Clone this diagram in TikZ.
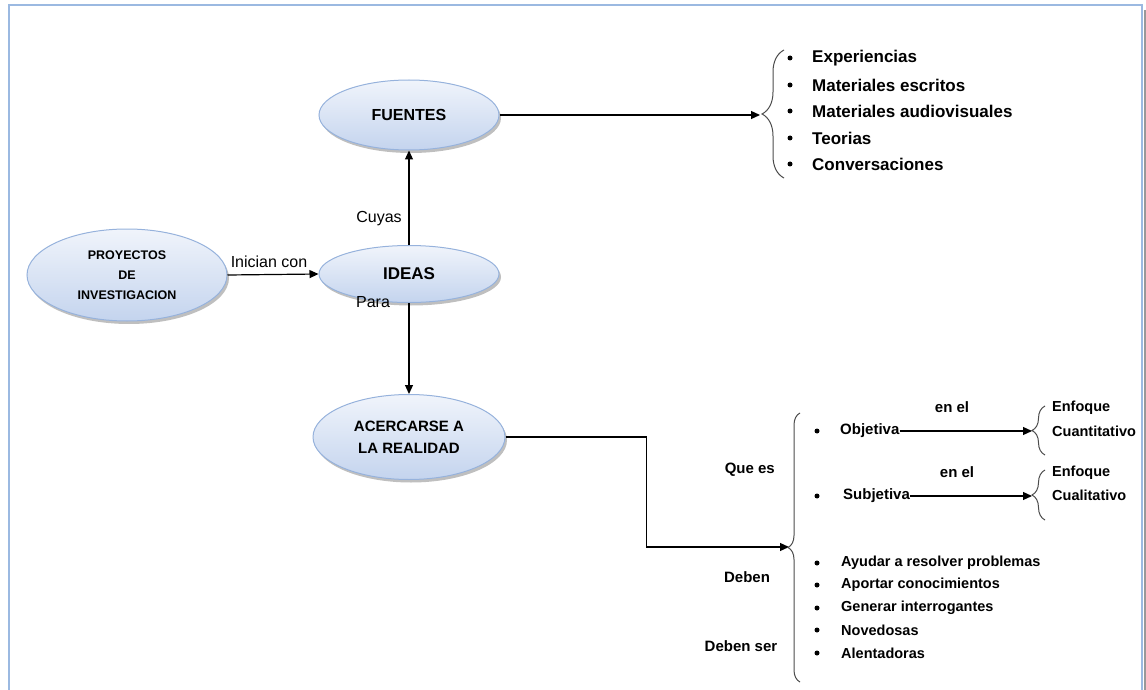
\documentclass[tikz,border=0pt]{standalone}
\usepackage{fontspec}
\setmainfont{Liberation Sans}
\usetikzlibrary{shapes.geometric,arrows.meta,decorations.pathreplacing,shadows}
\definecolor{frameblue}{RGB}{155,185,225}
\definecolor{elltop}{RGB}{240,244,251}
\definecolor{ellbot}{RGB}{196,212,238}
\definecolor{elldraw}{RGB}{150,178,220}
\begin{document}
\begin{tikzpicture}[x=1pt,y=-1pt,
 bubble/.style={ellipse, draw=elldraw, line width=1pt, top color=elltop, bottom color=ellbot, inner sep=0pt, align=center, text=black, font=\bfseries\fontsize{15}{22}\selectfont, drop shadow={shadow xshift=2pt, shadow yshift=-3pt, fill=black, opacity=0.25}},
 lbl/.style={font=\fontsize{16}{19}\selectfont, inner sep=0pt},
 blbl/.style={font=\bfseries\fontsize{15}{18}\selectfont, inner sep=0pt},
 item/.style={font=\bfseries\fontsize{17}{20}\selectfont, anchor=west, inner sep=0pt},
 sitem/.style={font=\bfseries\fontsize{14.5}{17}\selectfont, anchor=west, inner sep=0pt},
 bul/.style={circle, fill=black, inner sep=0pt, minimum size=5pt},
 arr/.style={-{Triangle[length=9pt,width=8pt]}, line width=1.2pt},
 brc/.style={decorate, decoration={brace, amplitude=#1, aspect=0.5}, line width=1pt, draw=black!70},
]
\useasboundingbox (0,0) rectangle (1146,690);
% frame
\draw[black!40, line width=2pt] (1145,10) -- (1145,700);
\draw[frameblue, line width=2pt] (9,700) -- (9,5) -- (1142,5) -- (1142,700);

% ellipses
\node[bubble, minimum width=180, minimum height=70, font=\bfseries\fontsize{16}{20}\selectfont] (fuentes) at (409,115) {FUENTES};
\node[bubble, minimum width=200, minimum height=92, font=\bfseries\fontsize{12.5}{20}\selectfont] (proy) at (127,275) {PROYECTOS\\DE\\INVESTIGACION};
\node[bubble, minimum width=180, minimum height=57, font=\bfseries\fontsize{17}{20}\selectfont] (ideas) at (409,274) {IDEAS};
\node[bubble, minimum width=192, minimum height=85] (acer) at (409,437) {ACERCARSE A\\LA REALIDAD};

% main connectors
\draw[arr] (proy.east) -- (ideas.west);
\draw[arr] (ideas.north) -- (fuentes.south);
\draw[arr] (ideas.south) -- (acer.north);
\node[lbl] (lini) at (269,262) {Inician con};
\node[lbl] (lcuy) at (379,219) {Cuyas};
\node[lbl] (lpara) at (373,302) {Para};

% fuentes list
\coordinate (b1tip) at (760,115);
\draw[arr] (fuentes.east) -- (b1tip);
\coordinate (b1a) at (784,178);
\coordinate (b1b) at (784,50);
\draw[brc=22] (b1a) -- (b1b);
\node[bul] (u1) at (790,58) {};
\node[bul] (u2) at (790,85) {};
\node[bul] (u3) at (790,111) {};
\node[bul] (u4) at (790,138) {};
\node[bul] (u5) at (790,164) {};
\node[item] (e1) at (812,58) {Experiencias};
\node[item] (e2) at (812,85) {Materiales escritos};
\node[item] (e3) at (812,111) {Materiales audiovisuales};
\node[item] (e4) at (812,138) {Teorias};
\node[item] (e5) at (812,164) {Conversaciones};

% acercarse
\coordinate (b2tip) at (789,547);
\draw[arr] (acer.east) -- ++(141,0) |- (b2tip);
\coordinate (b2a) at (800,682);
\coordinate (b2b) at (800,413);
\draw[brc=12] (b2a) -- (b2b);
\node[blbl, anchor=east] (queees) at (775,470) {Que es};
\node[blbl] (deben) at (747,577) {Deben};
\node[blbl] (debenser) at (741,646) {Deben ser};

% objetiva
\node[bul] (o1) at (817,431) {};
\node[blbl, anchor=west] (obj) at (840,431) {Objetiva};
\coordinate (b3tip) at (1032,431);
\draw[arr] (obj.east) -- (b3tip);
\node[blbl] (enel1) at (952,407) {en el};
\coordinate (b3a) at (1045,455);
\coordinate (b3b) at (1045,406);
\draw[brc=13] (b3a) -- (b3b);
\node[sitem] (enf1) at (1052,408) {Enfoque};
\node[sitem] (cuan) at (1052,431) {Cuantitativo};

% subjetiva
\node[bul] (o2) at (817,496) {};
\node[blbl, anchor=west] (subj) at (843,496) {Subjetiva};
\coordinate (b4tip) at (1032,496);
\draw[arr] (subj.east) -- (b4tip);
\node[blbl] (enel2) at (957,472) {en el};
\coordinate (b4a) at (1045,520);
\coordinate (b4b) at (1045,470);
\draw[brc=13] (b4a) -- (b4b);
\node[sitem] (enf2) at (1052,473) {Enfoque};
\node[sitem] (cual) at (1052,495) {Cualitativo};

% deben list
\node[bul] (d1) at (817,563) {};
\node[bul] (d2) at (817,585) {};
\node[bul] (d3) at (817,608) {};
\node[bul] (d4) at (817,630) {};
\node[bul] (d5) at (817,653) {};
\node[sitem] (t1) at (841,563) {Ayudar a resolver problemas};
\node[sitem] (t2) at (841,585) {Aportar conocimientos};
\node[sitem] (t3) at (841,608) {Generar interrogantes};
\node[sitem] (t4) at (841,630) {Novedosas};
\node[sitem] (t5) at (841,653) {Alentadoras};
\end{tikzpicture}
\end{document}
